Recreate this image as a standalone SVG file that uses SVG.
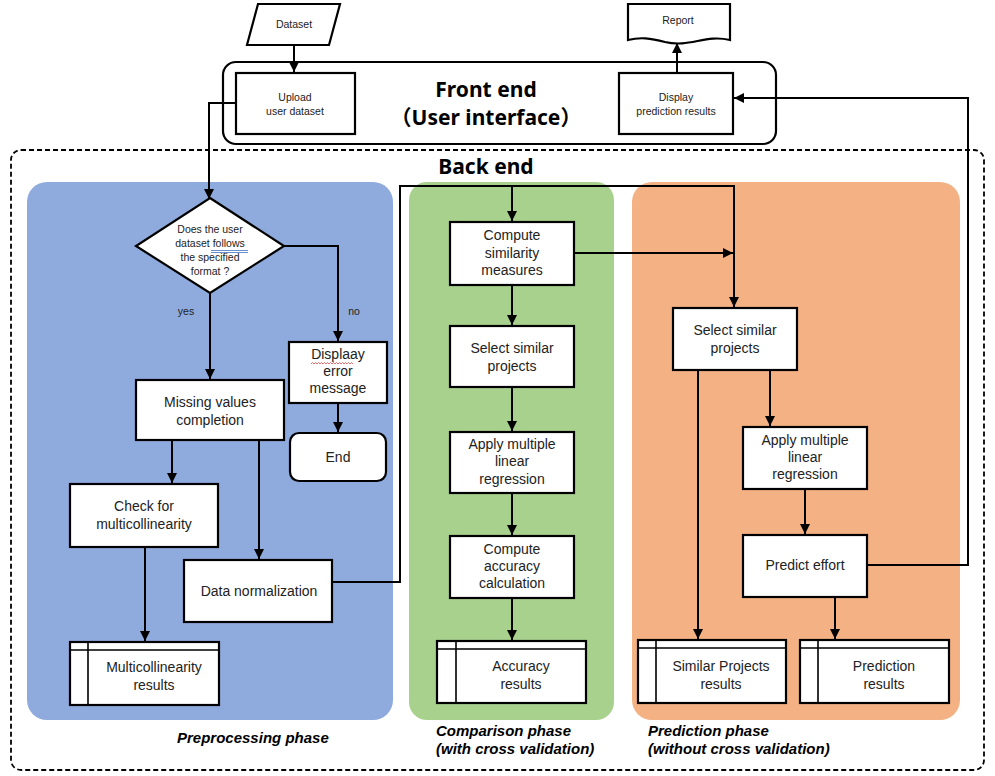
<svg xmlns="http://www.w3.org/2000/svg" width="995" height="776" viewBox="0 0 995 776">
<style>
.box{fill:#fff;stroke:#000;stroke-width:2.2}
.thin{fill:none;stroke:#000;stroke-width:1.6}
.t{font-family:"Liberation Sans","Noto Sans",sans-serif;font-size:14px;fill:#222;text-anchor:middle}
.s{font-family:"Liberation Sans","Noto Sans",sans-serif;font-size:10.5px;fill:#222;text-anchor:middle}
.h{font-family:"Noto Sans","Noto Sans CJK JP",sans-serif;font-size:21px;font-weight:bold;fill:#000;text-anchor:middle}
.ph{font-family:"Liberation Sans","Noto Sans",sans-serif;font-size:15px;font-weight:bold;font-style:italic;fill:#000}
.c{fill:none;stroke:#000;stroke-width:2}
</style>
<defs>
<marker id="ah" viewBox="0 0 10 10" refX="10" refY="5" markerWidth="5" markerHeight="5" orient="auto" markerUnits="strokeWidth">
<path d="M0,0 L10,5 L0,10 z" fill="#000"/>
</marker>
</defs>
<rect width="995" height="776" fill="#fff"/>

<g id="frontend">
<rect x="223" y="62" width="553" height="82" rx="13" fill="#fff" stroke="#000" stroke-width="2.2"/>
<text class="h" x="486" y="97">Front end</text>
<text class="h" x="486" y="125">（User interface）</text>
</g>
<g id="backend">
<rect x="11" y="150" width="973" height="620" rx="10" fill="none" stroke="#000" stroke-width="1.8" stroke-dasharray="5,3"/>
<text class="h" x="486" y="174">Back end</text>
</g>

<g id="panels">
<rect x="27" y="182" width="366" height="538" rx="20" fill="#8FAADC"/>
<rect x="409" y="182" width="205" height="538" rx="18" fill="#A9D18E"/>
<rect x="632" y="182" width="328" height="538" rx="20" fill="#F4B183"/>
</g>

<g id="connectors">
<path class="c" d="M294,45 V72" marker-end="url(#ah)"/>
<path class="c" d="M677,73 V43" marker-end="url(#ah)"/>
<path class="c" d="M236,103 H209 V199" marker-end="url(#ah)"/>
<path class="c" d="M284,246 H338 V341" marker-end="url(#ah)"/>
<path class="c" d="M210,292 V379" marker-end="url(#ah)"/>
<path class="c" d="M338,403 V432" marker-end="url(#ah)"/>
<path class="c" d="M172,440 V483" marker-end="url(#ah)"/>
<path class="c" d="M259,440 V559" marker-end="url(#ah)"/>
<path class="c" d="M145,547 V641" marker-end="url(#ah)"/>
<path class="c" d="M332,582 H400 V186 H734 V307" marker-end="url(#ah)"/>
<path class="c" d="M512,186 V221" marker-end="url(#ah)"/>
<path class="c" d="M574,253 H733" marker-end="url(#ah)"/>
<path class="c" d="M512,285 V325" marker-end="url(#ah)"/>
<path class="c" d="M512,387 V431" marker-end="url(#ah)"/>
<path class="c" d="M512,493 V535" marker-end="url(#ah)"/>
<path class="c" d="M512,598 V640" marker-end="url(#ah)"/>
<path class="c" d="M698,370 V639" marker-end="url(#ah)"/>
<path class="c" d="M770,370 V426" marker-end="url(#ah)"/>
<path class="c" d="M805,489 V534" marker-end="url(#ah)"/>
<path class="c" d="M835,597 V639" marker-end="url(#ah)"/>
<path class="c" d="M867,565 H968 V98 H734" marker-end="url(#ah)"/>
</g>

<g id="dataset">
<path d="M258,4 H340 L329,45 H247 Z" class="box" stroke-width="1.6"/>
<text class="s" x="294" y="28">Dataset</text>
</g>
<g id="report">
<path d="M628,4 H730 V40 C705,34 690,48 665,42 C650,38 640,37 628,40 Z" class="box" stroke-width="1.6"/>
<text class="s" x="678" y="24">Report</text>
</g>
<g id="upload">
<rect class="box" x="236" y="73" width="119" height="61"/>
<text class="s" x="295" y="101">Upload</text>
<text class="s" x="295" y="115">user dataset</text>
</g>
<g id="display">
<rect class="box" x="619" y="73" width="114" height="61"/>
<text class="s" x="676" y="101">Display</text>
<text class="s" x="676" y="115">prediction results</text>
</g>

<g id="decision">
<path d="M210,198 L284,246 L210,293 L136,246 Z" class="box"/>
<text class="s" x="210" y="233">Does the user</text>
<text class="s" x="210" y="247">dataset follows</text>
<text class="s" x="210" y="261">the specified</text>
<text class="s" x="210" y="275">format ?</text>
<path d="M211,250.5 H248 M211,252.5 H248" stroke="#4472C4" stroke-width="0.8" fill="none"/>
</g>
<text class="s" x="186" y="315">yes</text>
<text class="s" x="354" y="315">no</text>

<g id="error">
<rect class="box" x="289" y="342" width="98" height="61"/>
<text class="t" x="338" y="359">Displaay</text>
<text class="t" x="338" y="376">error</text>
<text class="t" x="338" y="393">message</text>
<path d="M311,364 l1.5,-1.5 l1.5,1.5 l1.5,-1.5 l1.5,1.5 l1.5,-1.5 l1.5,1.5 l1.5,-1.5 l1.5,1.5 l1.5,-1.5 l1.5,1.5 l1.5,-1.5 l1.5,1.5 l1.5,-1.5 l1.5,1.5 l1.5,-1.5 l1.5,1.5 l1.5,-1.5 l1.5,1.5 l1.5,-1.5 l1.5,1.5 l1.5,-1.5 l1.5,1.5 l1.5,-1.5 l1.5,1.5 l1.5,-1.5 l1.5,1.5 l1.5,-1.5 l1.5,1.5" stroke="#E03030" stroke-width="0.7" fill="none"/>
</g>
<g id="end">
<rect class="box" x="290" y="433" width="96" height="48" rx="9"/>
<text class="t" x="338" y="462">End</text>
</g>
<g id="missing">
<rect class="box" x="136" y="380" width="148" height="60"/>
<text class="t" x="210" y="407">Missing values</text>
<text class="t" x="210" y="425">completion</text>
</g>
<g id="check">
<rect class="box" x="70" y="484" width="148" height="63"/>
<text class="t" x="144" y="511">Check for</text>
<text class="t" x="144" y="529">multicollinearity</text>
</g>
<g id="normalization">
<rect class="box" x="184" y="560" width="148" height="62"/>
<text class="t" x="259" y="596">Data normalization</text>
</g>
<g id="multires">
<rect class="box" x="70" y="642" width="149" height="63"/>
<path class="thin" d="M70,650 H219 M88,642 V705"/>
<text class="t" x="154" y="672">Multicollinearity</text>
<text class="t" x="154" y="690">results</text>
</g>

<g id="similarity">
<rect class="box" x="450" y="222" width="124" height="63"/>
<text class="t" x="512" y="240">Compute</text>
<text class="t" x="512" y="258">similarity</text>
<text class="t" x="512" y="275">measures</text>
</g>
<g id="select1">
<rect class="box" x="450" y="326" width="124" height="61"/>
<text class="t" x="512" y="353">Select similar</text>
<text class="t" x="512" y="371">projects</text>
</g>
<g id="mlr1">
<rect class="box" x="450" y="432" width="124" height="61"/>
<text class="t" x="512" y="449">Apply multiple</text>
<text class="t" x="512" y="466">linear</text>
<text class="t" x="512" y="484">regression</text>
</g>
<g id="accuracy">
<rect class="box" x="450" y="536" width="124" height="62"/>
<text class="t" x="512" y="554">Compute</text>
<text class="t" x="512" y="571">accuracy</text>
<text class="t" x="512" y="588">calculation</text>
</g>
<g id="accres">
<rect class="box" x="437" y="641" width="149" height="62"/>
<path class="thin" d="M437,649 H586 M456,641 V703"/>
<text class="t" x="521" y="671">Accuracy</text>
<text class="t" x="521" y="689">results</text>
</g>

<g id="select2">
<rect class="box" x="673" y="308" width="124" height="62"/>
<text class="t" x="735" y="335">Select similar</text>
<text class="t" x="735" y="353">projects</text>
</g>
<g id="mlr2">
<rect class="box" x="743" y="427" width="124" height="62"/>
<text class="t" x="805" y="445">Apply multiple</text>
<text class="t" x="805" y="462">linear</text>
<text class="t" x="805" y="479">regression</text>
</g>
<g id="predict">
<rect class="box" x="743" y="535" width="124" height="62"/>
<text class="t" x="805" y="570">Predict effort</text>
</g>
<g id="simres">
<rect class="box" x="638" y="640" width="148" height="63"/>
<path class="thin" d="M638,648 H786 M656,640 V703"/>
<text class="t" x="721" y="671">Similar Projects</text>
<text class="t" x="721" y="689">results</text>
</g>
<g id="predres">
<rect class="box" x="800" y="640" width="149" height="63"/>
<path class="thin" d="M800,648 H949 M818,640 V703"/>
<text class="t" x="884" y="671">Prediction</text>
<text class="t" x="884" y="689">results</text>
</g>

<g id="labels">
<text class="ph" x="177" y="743">Preprocessing phase</text>
<text class="ph" x="436" y="736">Comparison phase</text>
<text class="ph" x="436" y="754">(with cross validation)</text>
<text class="ph" x="648" y="736">Prediction phase</text>
<text class="ph" x="648" y="754">(without cross validation)</text>
</g>
</svg>
